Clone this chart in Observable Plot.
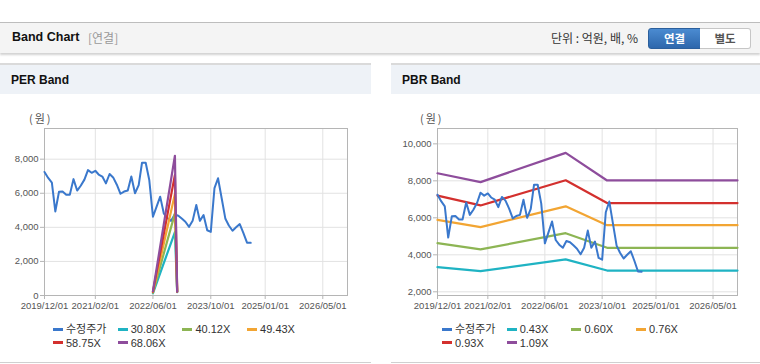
<!DOCTYPE html>
<html><head><meta charset="utf-8">
<script src="https://cdn.jsdelivr.net/npm/d3@7"></script>
<script src="https://cdn.jsdelivr.net/npm/@observablehq/plot@0.6"></script>
<style>
body{margin:0;width:760px;height:364px;position:relative;background:#fff;font-family:"Liberation Sans","Noto Sans CJK KR",sans-serif;overflow:hidden}
.abs{position:absolute}
.top{left:0;top:22px;width:760px;height:30px;background:#f4f4f4;border-top:1px solid #bdbdbd;box-shadow:0 2px 2px rgba(0,0,0,0.18)}
.title{left:12px;top:30px;font-size:12.5px;font-weight:bold;color:#111;font-family:"Liberation Sans",sans-serif}
.sub{left:88px;top:31px;font-size:12px;color:#999;font-family:"Noto Sans CJK KR",sans-serif;line-height:14px}
.unit{left:551px;top:30px;font-size:12px;color:#333;font-family:"Noto Sans CJK KR",sans-serif;line-height:16px}
.btn{top:28px;height:19px;font-size:11.5px;font-weight:bold;text-align:center;line-height:19px;font-family:"Noto Sans CJK KR",sans-serif}
.b1{left:648px;width:51px;background:linear-gradient(#4b8bd1,#2d67ac);border:1px solid #2b5f9c;border-radius:3px 0 0 3px;color:#fff}
.b2{left:700px;width:50px;background:#fff;border:1px solid #c6c6c6;border-left:none;border-radius:0 3px 3px 0;color:#555}
.panel{top:63px;height:297px;border-top:2px solid #dadada;border-bottom:1px solid #d0d0d0}
.phead{left:0;top:0;right:0;height:29px;background:#eef2f7}
.ptitle{left:11px;top:8px;font-size:12px;font-weight:bold;color:#111}
.won{font-size:11px;color:#555;font-family:"Noto Sans CJK KR",sans-serif;top:110px;letter-spacing:2px}
.leg{font-size:11px;color:#333;white-space:nowrap;line-height:13px}
.sw{display:inline-block;width:10px;height:3px;vertical-align:middle;margin-right:3px;position:relative;top:-1px}
</style></head>
<body>
<div class="abs top"></div>
<div class="abs title">Band Chart</div>
<div class="abs sub">[연결]</div>
<div class="abs unit">단위 : 억원, 배, %</div>
<div class="abs btn b1">연결</div>
<div class="abs btn b2">별도</div>
<div class="abs panel" style="left:0;width:371px"><div class="abs phead"></div><div class="abs ptitle">PER Band</div></div>
<div class="abs panel" style="left:391px;width:369px"><div class="abs phead"></div><div class="abs ptitle">PBR Band</div></div>
<div class="abs won" style="left:29px">(원)</div>
<div class="abs won" style="left:420px">(원)</div>
<div id="per" class="abs" style="left:0;top:100px"></div>
<div id="pbr" class="abs" style="left:391px;top:100px"></div>
<div id="legPer"></div>
<div id="legPbr"></div>
<script>
// ---- data ----
const priceDates = ["2019-12","2020-01","2020-02","2020-03","2020-04","2020-05","2020-06","2020-07","2020-08","2020-09",
 "2020-10","2020-11","2020-12","2021-01","2021-02","2021-03","2021-04","2021-05","2021-06","2021-07",
 "2021-08","2021-09","2021-10","2021-11","2021-12","2022-01","2022-02","2022-03","2022-04","2022-05",
 "2022-06","2022-07","2022-08","2022-09","2022-10","2022-11","2022-12","2023-01","2023-02","2023-03",
 "2023-04","2023-05","2023-06","2023-07","2023-08","2023-09","2023-10","2023-11","2023-12","2024-01",
 "2024-02","2024-03","2024-04","2024-05","2024-06","2024-07","2024-08","2024-09"];
const prices = [7250,6900,6620,4930,6090,6100,5910,5910,6830,6160,
 6440,6800,7360,7200,7320,7100,6980,6580,7130,6930,
 6500,5970,6100,6160,6980,6000,6480,7790,7790,6780,
 4620,5200,5800,4800,4550,4380,4750,4680,4500,4330,
 4030,4380,5310,4380,4720,3830,3735,6300,6880,5690,
 4500,4110,3800,4000,4190,3680,3100,3090];

const xTickLabels = ["2019/12/01","2021/02/01","2022/06/01","2023/10/01","2025/01/01","2026/05/01"];
const xDomain = ["2019-12-01","2026-11-25"];

const perYTicks = [0,2000,4000,6000,8000];
const perYDomain = [0,9800];
const perBandDates = ["2022-06-01","2022-12-03","2022-12-22"];
const perBandNames = ["30.80X","40.12X","49.43X","58.75X","68.06X"];
const per3080 = [130,3720,200];
const per4012 = [170,4820,210];
const per4943 = [200,5950,220];
const per5875 = [230,7080,230];
const per6806 = [260,8200,220];

const pbrYTicks = [2000,4000,6000,8000,10000];
const pbrYDomain = [1800,10830];
const pbrBandDates = ["2019-12-01","2020-12-01","2022-11-25","2023-11-12","2026-11-25"];
const pbrBandNames = ["0.43X","0.60X","0.76X","0.93X","1.09X"];
const pbr043 = [3330,3120,3750,3150,3150];
const pbr060 = [4630,4290,5170,4380,4380];
const pbr076 = [5890,5500,6620,5600,5600];
const pbr093 = [7200,6670,8030,6800,6800];
const pbr109 = [8410,7930,9510,8020,8020];

const priceName = "수정주가";
const priceColor = "#3a78cc";
const bandColors = ["#1fb3c3","#8db554","#f2a533","#d3302e","#8e4d9c"];

// ---- build ----
const pm = d3.utcParse("%Y-%m");
const pd = d3.utcParse("%Y-%m-%d");
const ps = d3.utcParse("%Y/%m/%d");
const xTicks = xTickLabels.map(ps);
const priceData = priceDates.map((d,i)=>({date:pm(d), value:prices[i]}));

function bandRows(dates, names, series){
  return series.flatMap((vals,k)=>dates.map((d,i)=>({date:pd(d), value:vals[i], name:names[k]})));
}

function chart({width, marginLeft, marginRight, yDomain, yTicks, bands, names, bandsOnTop}){
  const priceMark = Plot.line(priceData,{x:"date",y:"value",stroke:priceColor,strokeWidth:2});
  const bandMark = Plot.line(bands,{x:"date",y:"value",z:"name",stroke:"name",strokeWidth:2.2});
  return Plot.plot({
    width, height:215, marginLeft, marginRight, marginTop:28, marginBottom:20,
    style:{fontSize:"9.5px", fontFamily:"Liberation Sans, sans-serif", background:"transparent", overflow:"visible"},
    x:{type:"utc", domain:xDomain.map(pd)},
    y:{domain:yDomain},
    color:{domain:names, range:bandColors},
    marks:[
      Plot.gridX(xTicks,{stroke:"#e2e2e2",strokeOpacity:1}),
      Plot.gridY(yTicks,{stroke:"#e2e2e2",strokeOpacity:1}),
      Plot.axisX(xTicks,{tickSize:4,tickPadding:3,tickFormat:d3.utcFormat("%Y/%m/%d"),stroke:"#b5b5b5",fill:"#555",label:null}),
      Plot.axisY(yTicks,{tickSize:4,tickPadding:2,tickFormat:d3.format(","),stroke:"#b5b5b5",fill:"#555",label:null}),
      Plot.frame({stroke:"#b5b5b5"}),
      ...(bandsOnTop ? [priceMark, bandMark] : [bandMark, priceMark])
    ]
  });
}

document.getElementById("per").appendChild(chart({
  width:371, marginLeft:44, marginRight:24, yDomain:perYDomain, yTicks:perYTicks,
  bands:bandRows(perBandDates, perBandNames, [per3080,per4012,per4943,per5875,per6806]),
  names:perBandNames, bandsOnTop:true
}));
document.getElementById("pbr").appendChild(chart({
  width:369, marginLeft:46, marginRight:23, yDomain:pbrYDomain, yTicks:pbrYTicks,
  bands:bandRows(pbrBandDates, pbrBandNames, [pbr043,pbr060,pbr076,pbr093,pbr109]),
  names:pbrBandNames, bandsOnTop:false
}));

function legend(el, x0, names){
  const items = [{name:priceName,color:priceColor}].concat(names.map((n,i)=>({name:n,color:bandColors[i]})));
  const holder = document.getElementById(el);
  items.forEach((it,i)=>{
    const col = i%4, row = Math.floor(i/4);
    const d = document.createElement("div");
    d.className = "abs leg";
    d.style.left = (x0 + col*64.7) + "px";
    d.style.top = (323 + row*13.5) + "px";
    d.innerHTML = `<span class="sw" style="background:${it.color}"></span>${it.name}`;
    holder.appendChild(d);
  });
}
legend("legPer", 53, perBandNames);
legend("legPbr", 442, pbrBandNames);
</script>
</body></html>
